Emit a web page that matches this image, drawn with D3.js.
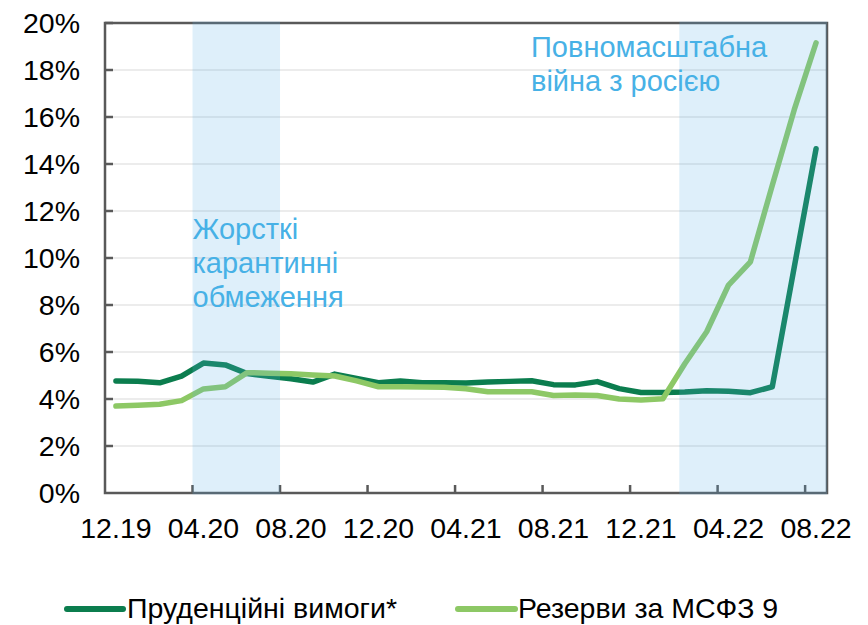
<!DOCTYPE html>
<html>
<head>
<meta charset="utf-8">
<script src="https://cdn.jsdelivr.net/npm/d3@7"></script>
<style>
  html, body { margin: 0; padding: 0; background: #fff; }
  svg text { font-family: "Liberation Sans", Arial, sans-serif; }
</style>
</head>
<body>
<svg id="chart" width="868" height="625"></svg>
<script>
// ---- DATA ----
const months = ["12.19","01.20","02.20","03.20","04.20","05.20","06.20","07.20","08.20","09.20","10.20","11.20",
                "12.20","01.21","02.21","03.21","04.21","05.21","06.21","07.21","08.21","09.21","10.21","11.21",
                "12.21","01.22","02.22","03.22","04.22","05.22","06.22","07.22","08.22"];
const prudential = [4.77,4.76,4.69,4.97,5.53,5.45,5.08,4.97,4.86,4.72,5.06,4.87,
                    4.69,4.77,4.69,4.69,4.68,4.72,4.75,4.78,4.61,4.60,4.74,4.44,
                    4.28,4.28,4.30,4.35,4.33,4.27,4.52,9.60,14.65];
const ifrs9 = [3.70,3.73,3.78,3.93,4.43,4.52,5.12,5.10,5.07,5.02,4.98,4.77,
               4.52,4.52,4.51,4.50,4.44,4.31,4.31,4.31,4.15,4.17,4.15,4.00,
               3.96,4.01,5.50,6.86,8.85,9.84,13.10,16.30,19.16];
const seriesNames = ["Пруденційні вимоги*", "Резерви за МСФЗ 9"];
const yTicks = [0,2,4,6,8,10,12,14,16,18,20];
const xLabelMonths = ["12.19","04.20","08.20","12.20","04.21","08.21","12.21","04.22","08.22"];
// shaded periods, in category units (start index, end index)
const bandStart = [4, 26.25];
const bandEnd = [8, 33];
const bandLabels = [["Жорсткі","карантинні","обмеження"], ["Повномасштабна","війна з росією"]];

// ---- LAYOUT ----
const L = 105, R = 827, T = 23, B = 493;
const svg = d3.select("#chart");
const darkGreen = "#0b7d4e", lightGreen = "#8dc865", axisCol = "#595959", gridCol = "#d9d9d9";
const annCol = "#47b1e6";
const fs = 28.5, annFs = 29;

const x = d3.scaleBand().domain(months).range([L, R]).padding(0);
const bw = x.bandwidth();
const xc = m => x(m) + bw / 2;
const xIdx = d3.scaleLinear().domain([0, months.length]).range([L, R]);
const y = d3.scaleLinear().domain([0, 20]).range([B, T]);

// gridlines
svg.append("g").selectAll("line").data(yTicks.filter(v => v > 0 && v < 20)).join("line")
  .attr("x1", L).attr("x2", R).attr("y1", d => y(d)).attr("y2", d => y(d))
  .attr("stroke", gridCol).attr("stroke-width", 1.2);

// frame
svg.append("rect").attr("x", L).attr("y", T).attr("width", R - L).attr("height", B - T)
  .attr("fill", "none").attr("stroke", axisCol).attr("stroke-width", 2.5);

// y ticks (inward)
svg.append("g").selectAll("line").data(yTicks.filter(v => v > 0)).join("line")
  .attr("x1", L).attr("x2", L + 8).attr("y1", d => y(d)).attr("y2", d => y(d))
  .attr("stroke", axisCol).attr("stroke-width", 2.5);

// x ticks (inward) at category boundaries before labelled months
svg.append("g").selectAll("line").data(xLabelMonths.slice(1)).join("line")
  .attr("x1", d => x(d)).attr("x2", d => x(d)).attr("y1", B).attr("y2", B - 8)
  .attr("stroke", axisCol).attr("stroke-width", 2.5);

// y labels
svg.append("g").selectAll("text").data(yTicks).join("text")
  .attr("x", 80).attr("y", d => y(d) + 10).attr("text-anchor", "end")
  .attr("font-size", fs).attr("fill", "#000").text(d => d + "%");

// x labels
svg.append("g").selectAll("text").data(xLabelMonths).join("text")
  .attr("x", d => xc(d)).attr("y", 538).attr("text-anchor", "middle")
  .attr("font-size", fs).attr("fill", "#000").text(d => d);

// lines
const line = d3.line().x((d, i) => xc(months[i])).y(d => y(d));
svg.append("path").datum(prudential).attr("d", line).attr("fill", "none")
  .attr("stroke", darkGreen).attr("stroke-width", 5.5).attr("stroke-linejoin", "round").attr("stroke-linecap", "round");
svg.append("path").datum(ifrs9).attr("d", line).attr("fill", "none")
  .attr("stroke", lightGreen).attr("stroke-width", 5.5).attr("stroke-linejoin", "round").attr("stroke-linecap", "round");

// shaded bands (semi-transparent overlay)
svg.append("g").selectAll("rect").data(bandStart).join("rect")
  .attr("x", (d) => xIdx(d)).attr("y", T - 1.5)
  .attr("width", (d, i) => xIdx(bandEnd[i]) - xIdx(d)).attr("height", B - T + 3)
  .attr("fill", "rgb(91,176,230)").attr("fill-opacity", 0.2);

// annotations
const ann1 = svg.append("text").attr("font-size", annFs).attr("fill", annCol);
bandLabels[0].forEach((t, i) => ann1.append("tspan").attr("x", xIdx(bandStart[0])).attr("y", 239 + i * 34).text(t));
const ann2 = svg.append("text").attr("font-size", annFs).attr("fill", annCol);
bandLabels[1].forEach((t, i) => ann2.append("tspan").attr("x", 531).attr("y", 57 + i * 34).text(t));

// legend
const leg = [{x0: 67, x1: 123, tx: 127, c: darkGreen, t: seriesNames[0]},
             {x0: 458, x1: 515, tx: 518, c: lightGreen, t: seriesNames[1]}];
const lg = svg.append("g").selectAll("g").data(leg).join("g");
lg.append("line").attr("x1", d => d.x0).attr("x2", d => d.x1).attr("y1", 609).attr("y2", 609)
  .attr("stroke", d => d.c).attr("stroke-width", 6).attr("stroke-linecap", "round");
lg.append("text").attr("x", d => d.tx).attr("y", 618).attr("font-size", fs).attr("fill", "#000").text(d => d.t);
</script>
</body>
</html>
